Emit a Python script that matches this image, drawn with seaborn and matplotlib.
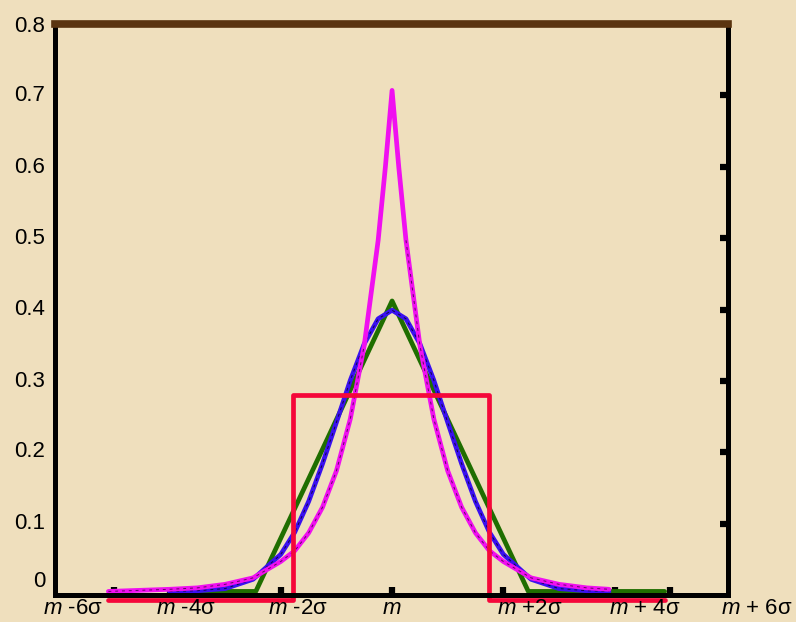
import matplotlib
matplotlib.use("Agg")
import pandas as pd
import matplotlib.pyplot as plt
import seaborn as sns

# Data (x in units of sigma around the mean m)

x_normal = [-4.0, -3.5, -3.0, -2.5, -2.0, -1.75, -1.5, -1.25, -1.0, -0.75, -0.5, -0.25, 0.0,
            0.25, 0.5, 0.75, 1.0, 1.25, 1.5, 1.75, 2.0, 2.5, 3.0, 3.5, 3.9]
y_normal = [0.005, 0.006, 0.009, 0.022, 0.057, 0.088, 0.131, 0.184, 0.242, 0.301, 0.352, 0.387, 0.399,
            0.387, 0.352, 0.301, 0.242, 0.184, 0.131, 0.088, 0.057, 0.022, 0.009, 0.006, 0.005]

x_laplace = [-5.1, -4.0, -3.5, -3.0, -2.5, -2.0, -1.75, -1.5, -1.25, -1.0, -0.75, -0.5, -0.25, -0.12, 0.0,
             0.12, 0.25, 0.5, 0.75, 1.0, 1.25, 1.5, 1.75, 2.0, 2.5, 3.0, 3.5, 3.9]
y_laplace = [0.005, 0.008, 0.010, 0.015, 0.024, 0.047, 0.062, 0.087, 0.123, 0.174, 0.247, 0.350, 0.497, 0.600, 0.707,
             0.600, 0.497, 0.350, 0.247, 0.174, 0.123, 0.087, 0.062, 0.047, 0.024, 0.015, 0.010, 0.008]

x_triangle = [-4.0, -2.45, 0.0, 2.45, 4.9]
y_triangle = [0.005, 0.005, 0.412, 0.005, 0.005]

x_uniform = [-5.1, -1.78, -1.78, 1.74, 1.74, 4.9]
y_uniform = [-0.007, -0.007, 0.28, 0.28, -0.007, -0.007]

x_labels = ["-6σ", "-4σ", "-2σ", "", "+2σ", "+ 4σ", "+ 6σ"]
x_label_pos = [-5.74, -3.70, -1.69, 0.0, 2.48, 4.55, 6.55]
x_tick_marks = [-5, -4, -2, 0, 2, 4, 5]

y_labels = ["0", "0.1", "0.2", "0.3", "0.4", "0.5", "0.6", "0.7", "0.8"]
y_label_pos = [0.023, 0.104, 0.204, 0.303, 0.403, 0.503, 0.603, 0.703, 0.80]
y_right_ticks = [0.1, 0.2, 0.3, 0.4, 0.5, 0.6, 0.7]

# Style

sns.set_style("ticks")
plt.rcParams["font.family"] = ["Liberation Sans", "DejaVu Sans"]
plt.rcParams["mathtext.fontset"] = "custom"
plt.rcParams["mathtext.it"] = "Liberation Sans:italic"
plt.rcParams["mathtext.rm"] = "Liberation Sans"

bg = "#efdfbd"
fig = plt.figure(figsize=(7.96, 6.22), dpi=100, facecolor=bg)
ax = fig.add_axes([0.0691, 0.0434, 0.8455, 0.918])
ax.set_facecolor(bg)

lw = 3.4
sns.lineplot(x=x_triangle, y=y_triangle, color="#1f6e00", lw=lw, sort=False, estimator=None, ax=ax)
sns.lineplot(x=x_normal, y=y_normal, color="#3a10f0", lw=lw, sort=False, estimator=None, ax=ax)
ax.plot(x_normal, y_normal, color="black", lw=0.7, dashes=(3, 4), alpha=0.7)
sns.lineplot(x=x_laplace, y=y_laplace, color="#f010f0", lw=lw, sort=False, estimator=None, ax=ax)
ax.plot(x_laplace[:12], y_laplace[:12], color="black", lw=0.7, dashes=(3, 4), alpha=0.6)
ax.plot(x_laplace[-12:], y_laplace[-12:], color="black", lw=0.7, dashes=(3, 4), alpha=0.6)
sns.lineplot(x=x_uniform, y=y_uniform, color="#f5073a", lw=lw, sort=False, estimator=None, ax=ax)
for line in ax.get_lines():
    line.set_clip_on(False)

# x axis: tick marks only, labels as text (last one sits past the axis end)
ax.set_xticks([])
ax.set_xticks(x_tick_marks, minor=True)
ax.tick_params(axis="x", which="minor", direction="in", length=6, width=4.5, color="black")
for pos, s in zip(x_label_pos, x_labels):
    txt = r"$\it{m}$ " + s if s else r"$\it{m}$"
    ax.text(pos, -0.024, txt, transform=ax.get_xaxis_transform(), ha="center", va="center",
            fontsize=16, color="black")

ax.set_yticks(y_label_pos)
ax.set_yticklabels(y_labels, fontsize=16, color="black")
ax.set_yticks(y_right_ticks, minor=True)
ax.tick_params(axis="y", which="major", length=0, pad=7, left=False, right=False)
ax.tick_params(axis="y", which="minor", direction="in", length=6, width=4.5, color="black",
               left=False, right=True)

ax.set_xlim(-6.06, 6.04)
ax.set_ylim(0, 0.8)

for side in ["left", "right", "bottom"]:
    ax.spines[side].set_color("black")
    ax.spines[side].set_linewidth(3.6)
ax.spines["top"].set_color("#5a3410")
ax.spines["top"].set_linewidth(5.5)
ax.axhline(0.8, color="black", lw=2.6, clip_on=False)
ax.set_xlabel("")
ax.set_ylabel("")

fig.savefig("out.png", dpi=100, facecolor=bg)
